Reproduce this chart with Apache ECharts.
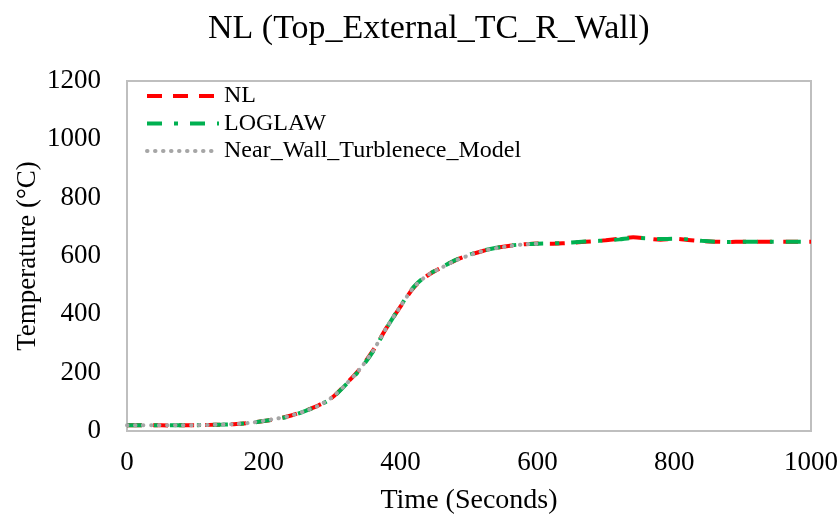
<!DOCTYPE html>
<html>
<head>
<meta charset="utf-8">
<script src="https://cdn.jsdelivr.net/npm/echarts@6/dist/echarts.min.js"></script>
<style>
  html, body { margin: 0; padding: 0; background: #ffffff; }
  #chart { width: 840px; height: 521px; }
</style>
</head>
<body>
<div id="chart"></div>
<script>
// Time stamps (s) of the sampled temperatures
const timeNL = [0, 20, 40, 60, 80, 100, 120, 140, 160, 180, 200, 220, 240, 260, 280, 300, 320, 340, 360, 380,
  400, 420, 440, 460, 480, 500, 520, 540, 560, 580, 600, 620, 640, 660, 680, 700, 720, 740, 760, 780,
  800, 820, 840, 860, 880, 900, 920, 940, 960, 980, 1000];
// Temperature (°C) at the top external thermocouple, right wall
const tempNL = [20, 20, 20, 19, 20, 20, 21, 22, 24, 28, 34, 42, 53, 69, 88, 115, 161, 212, 277, 356,
  427, 494, 534, 561, 585, 603, 617, 628, 635, 640, 643, 642, 644, 647, 650, 654, 659, 664, 660, 656,
  659, 655, 651, 649, 648, 649, 649, 649, 649, 649, 649];
const tempLogLaw = [20, 20, 20, 20, 20, 20, 21, 22, 24, 28, 34, 42, 52, 68, 87, 114, 159, 209, 274, 355,
  429, 496, 536, 561, 586, 604, 618, 628, 636, 640, 642, 643, 645, 648, 651, 653, 657, 662, 661, 658,
  659, 657, 652, 649, 648, 649, 649, 649, 649, 649, 649];
// Near-wall turbulence model run stops at 600 s
const timeNearWall = [0, 20, 40, 60, 80, 100, 120, 140, 160, 180, 200, 220, 240, 260, 280, 300, 320, 340, 360, 380,
  400, 420, 440, 460, 480, 500, 520, 540, 560, 580, 600];
const tempNearWall = [20, 20, 20, 20, 20, 20, 21, 22, 24, 28, 35, 43, 53, 68, 87, 116, 160, 211, 276, 356,
  428, 495, 535, 560, 584, 602, 617, 627, 634, 640, 642];

const xTicks = [0, 200, 400, 600, 800, 1000];
const yTicks = [0, 200, 400, 600, 800, 1000, 1200];

const pair = (xs, ys) => xs.map((x, i) => [x, ys[i]]);
const FONT = '"Liberation Serif", "Times New Roman", serif';

const chart = echarts.init(document.getElementById('chart'), null, { renderer: 'canvas' });
chart.setOption({
  animation: false,
  backgroundColor: '#ffffff',
  title: {
    text: 'NL (Top_External_TC_R_Wall)',
    left: 203,
    top: 7,
    textStyle: { fontFamily: FONT, fontSize: 34, fontWeight: 'normal', color: '#000000' }
  },
  grid: {
    left: 127, right: 29, top: 81, bottom: 90,
    outerBoundsMode: 'none',
    containLabel: false,
    show: true, borderColor: '#bfbfbf', borderWidth: 2, backgroundColor: 'transparent'
  },
  legend: {
    orient: 'vertical',
    left: 140,
    top: 79,
    itemWidth: 72,
    itemHeight: 14,
    itemGap: 3.5,
    itemStyle: { opacity: 0 },
    lineStyle: { width: 4 },
    textStyle: { fontFamily: FONT, fontSize: 24, color: '#000000', lineHeight: 24 },
    data: ['NL', 'LOGLAW', 'Near_Wall_Turblenece_Model']
  },
  xAxis: {
    type: 'value',
    min: xTicks[0],
    max: xTicks[xTicks.length - 1],
    interval: 200,
    name: 'Time (Seconds)',
    nameLocation: 'middle',
    nameMoveOverlap: false,
    nameGap: 56,
    nameTextStyle: { fontFamily: FONT, fontSize: 28, color: '#000000' },
    axisLine: { show: true, lineStyle: { color: '#bfbfbf', width: 2 } },
    axisTick: { show: false },
    splitLine: { show: false },
    axisLabel: { fontFamily: FONT, fontSize: 27, color: '#000000', margin: 18, formatter: v => String(v) }
  },
  yAxis: {
    type: 'value',
    min: yTicks[0],
    max: yTicks[yTicks.length - 1],
    interval: 200,
    name: 'Temperature (°C)',
    nameLocation: 'middle',
    nameMoveOverlap: false,
    nameGap: 86,
    nameTextStyle: { fontFamily: FONT, fontSize: 27, color: '#000000' },
    axisLine: { show: true, lineStyle: { color: '#bfbfbf', width: 2 } },
    axisTick: { show: false },
    splitLine: { show: false },
    axisLabel: { fontFamily: FONT, fontSize: 27, color: '#000000', margin: 26, formatter: v => String(v) }
  },
  series: [
    {
      name: 'NL',
      type: 'line',
      data: pair(timeNL, tempNL),
      symbol: 'none',
      smooth: 0.3,
      itemStyle: { color: '#ff0000' },
      lineStyle: { color: '#ff0000', width: 4, type: [15, 11], cap: 'butt' }
    },
    {
      name: 'LOGLAW',
      type: 'line',
      data: pair(timeNL, tempLogLaw),
      symbol: 'none',
      smooth: 0.3,
      itemStyle: { color: '#00b050' },
      lineStyle: { color: '#00b050', width: 4, type: [15, 12, 4, 12], cap: 'butt' }
    },
    {
      name: 'Near_Wall_Turblenece_Model',
      type: 'line',
      data: pair(timeNearWall, tempNearWall),
      symbol: 'none',
      smooth: 0.3,
      itemStyle: { color: '#a6a6a6' },
      lineStyle: { color: '#a6a6a6', width: 4, type: [0.5, 7.5], cap: 'round' }
    }
  ]
});
</script>
</body>
</html>
